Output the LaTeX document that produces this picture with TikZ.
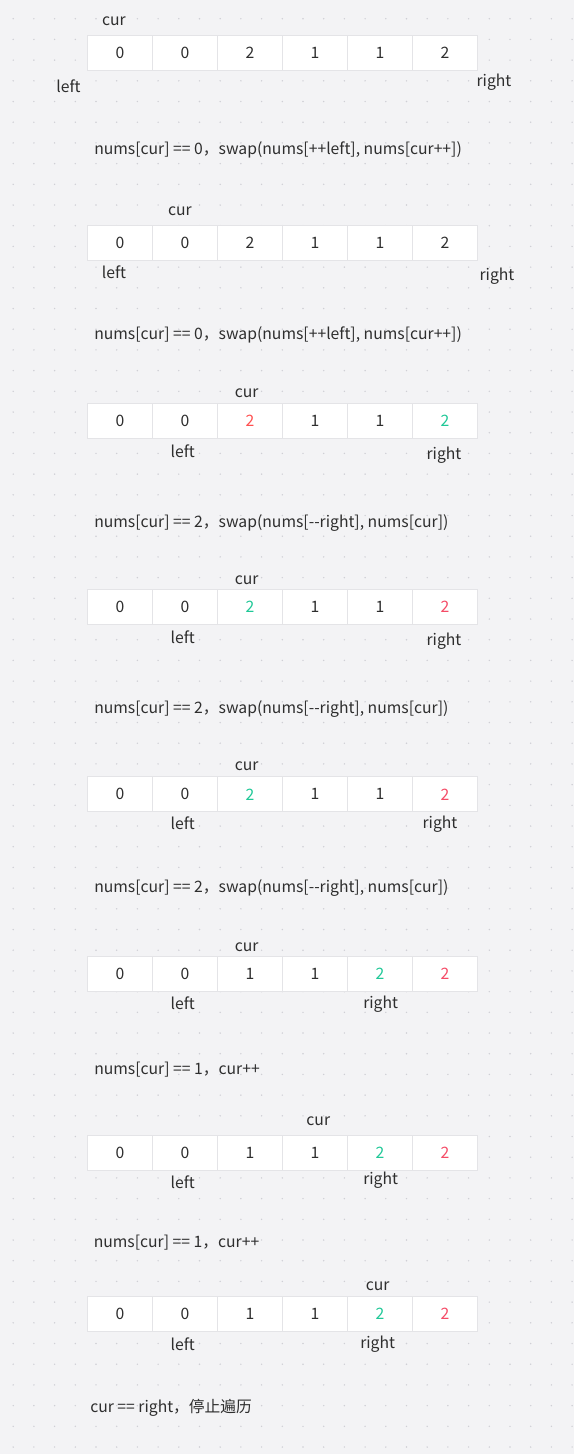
\documentclass[tikz,border=0pt]{standalone}
\usepackage{fontspec}
\setmainfont{Noto Sans CJK SC}
\usepackage{xcolor}
\usetikzlibrary{positioning}
\definecolor{bg}{HTML}{F3F3F5}
\definecolor{dotc}{HTML}{CFCFD5}
\definecolor{cellline}{HTML}{E4E4E7}
\definecolor{ink}{HTML}{2E2E2E}
\definecolor{hot}{HTML}{FF5050}
\definecolor{pink}{HTML}{F54B66}
\definecolor{mint}{HTML}{1FC897}

\begin{document}
\begin{tikzpicture}[x=0.75pt,y=-0.75pt,
    font=\fontsize{11.8pt}{14pt}\selectfont,
    cell/.style={draw=cellline, line width=0.75pt, fill=white, text=ink,
      minimum width=48.75pt, minimum height=26.25pt, inner sep=0pt},
    lbl/.style={text=ink, inner sep=0pt},
    note/.style={text=ink, inner sep=0pt, anchor=west}]
      \fill[bg] (0,0) rectangle (574,1454);
      \useasboundingbox (0,0) rectangle (574,1454);
      % dotted paper
      \foreach \gx in {0,...,27}
        \foreach \gy in {0,...,70}
          \fill[dotc] (13.2+20.7*\gx,-2+20.7*\gy) circle (0.8);

      % step 1
      \foreach \v [count=\i] in {0,0,2,1,1,2}
        \node[cell] (aa\i) at (55+65*\i,52.5) {\v};
      \node[lbl] (curA) at (114,21.5) {cur};
      \node[lbl] (leftA) at (68.5,86.5) {left};
      \node[lbl] (rightA) at (494,82.5) {right};
      \node[note] (stepA) at (94,149.5) {nums[cur] == 0，swap(nums[++left], nums[cur++])};

      % step 2
      \foreach \v [count=\i] in {0,0,2,1,1,2}
        \node[cell] (bb\i) at (55+65*\i,242.5) {\v};
      \node[lbl] (curB) at (180,211.5) {cur};
      \node[lbl] (leftB) at (114,272.2) {left};
      \node[lbl] (rightB) at (497,276.5) {right};
      \node[note] (stepB) at (94,335) {nums[cur] == 0，swap(nums[++left], nums[cur++])};

      % step 3
      \foreach \v [count=\i] in {0,0,{\color{hot}2},1,1,{\color{mint}2}}
        \node[cell] (cc\i) at (55+65*\i,420.8) {\v};
      \node[lbl] (curC) at (246.7,393.3) {cur};
      \node[lbl] (leftC) at (182.7,451.2) {left};
      \node[lbl] (rightC) at (444,455) {right};
      \node[note] (stepC) at (94,523.5) {nums[cur] == 2，swap(nums[-{}-right], nums[cur])};

      % step 4
      \foreach \v [count=\i] in {0,0,{\color{mint}2},1,1,{\color{pink}2}}
        \node[cell] (dd\i) at (55+65*\i,607) {\v};
      \node[lbl] (curD) at (246.7,580) {cur};
      \node[lbl] (leftD) at (182.7,637.2) {left};
      \node[lbl] (rightD) at (444,641.5) {right};
      \node[note] (stepD) at (94,709.5) {nums[cur] == 2，swap(nums[-{}-right], nums[cur])};

      % step 5
      \foreach \v [count=\i] in {0,0,{\color{mint}2},1,1,{\color{pink}2}}
        \node[cell] (ee\i) at (55+65*\i,794.3) {\v};
      \node[lbl] (curE) at (246.7,766) {cur};
      \node[lbl] (leftE) at (182.7,823.2) {left};
      \node[lbl] (rightE) at (440,823.7) {right};
      \node[note] (stepE) at (94,888.5) {nums[cur] == 2，swap(nums[-{}-right], nums[cur])};

      % step 6
      \foreach \v [count=\i] in {0,0,1,1,{\color{mint}2},{\color{pink}2}}
        \node[cell] (ff\i) at (55+65*\i,974.2) {\v};
      \node[lbl] (curF) at (246.7,947) {cur};
      \node[lbl] (leftF) at (182.7,1003.2) {left};
      \node[lbl] (rightF) at (380.7,1003.7) {right};
      \node[note] (stepF) at (94,1069.5) {nums[cur] == 1，cur++};

      % step 7
      \foreach \v [count=\i] in {0,0,1,1,{\color{mint}2},{\color{pink}2}}
        \node[cell] (gg\i) at (55+65*\i,1152.8) {\v};
      \node[lbl] (curG) at (318.3,1121) {cur};
      \node[lbl] (leftG) at (182.7,1182.2) {left};
      \node[lbl] (rightG) at (380.7,1180.3) {right};
      \node[note] (stepG) at (93.5,1242.5) {nums[cur] == 1，cur++};

      % step 8
      \foreach \v [count=\i] in {0,0,1,1,{\color{mint}2},{\color{pink}2}}
        \node[cell] (hh\i) at (55+65*\i,1314.2) {\v};
      \node[lbl] (curH) at (377.7,1286.7) {cur};
      \node[lbl] (leftH) at (182.7,1343.8) {left};
      \node[lbl] (rightH) at (377.7,1344.3) {right};
      \node[note] (stepH) at (90,1408) {cur == right，停止遍历};
    \end{tikzpicture}
\end{document}
